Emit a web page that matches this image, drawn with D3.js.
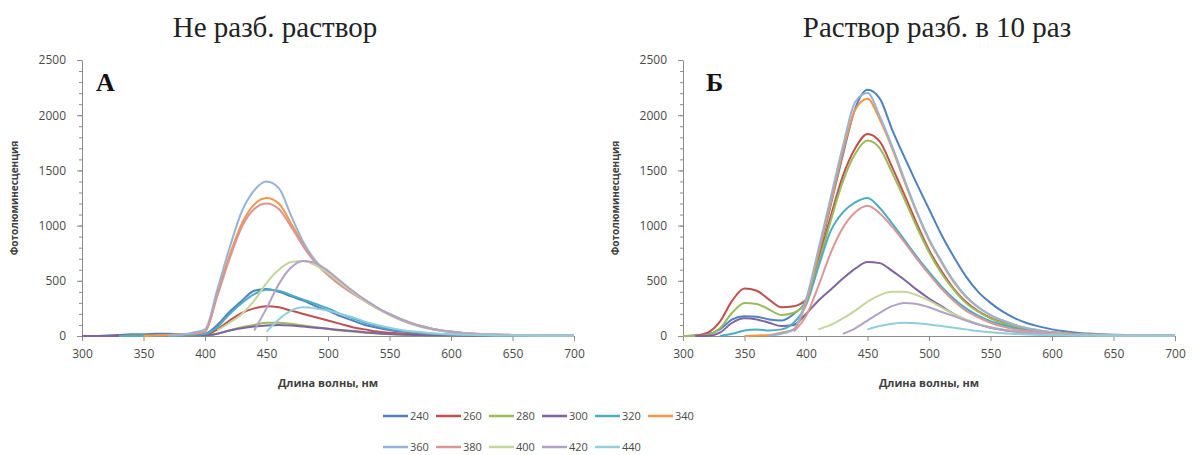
<!DOCTYPE html>
<html>
<head>
<meta charset="utf-8">
<script src="https://cdn.jsdelivr.net/npm/d3@7"></script>
<style>
	body { margin: 0; background: #fff; }
	svg { display: block; }
</style>
</head>
<body>
<div id="chart"></div>
<script>
// emission wavelengths, nm
const wavelengths = [300, 310, 320, 330, 340, 350, 360, 370, 380, 390, 400,
	410, 420, 430, 440, 450, 460, 470, 480, 490, 500,
	510, 520, 530, 540, 550, 560, 570, 580, 590, 600,
	610, 620, 630, 640, 650, 660, 670, 680, 690, 700];

const seriesNames = ["240", "260", "280", "300", "320", "340", "360", "380", "400", "420", "440"];
const colors = ["#4F81BD", "#C0504D", "#9BBB59", "#8064A2", "#4BACC6", "#F79646",
	"#95B3D7", "#D99694", "#C3D69B", "#B3A2C7", "#92CDDC"];

const xTicks = [300, 350, 400, 450, 500, 550, 600, 650, 700];
const yTicks = [0, 500, 1000, 1500, 2000, 2500];

const N = null;

// A: undiluted solution
const a240 = [0,0,5,10,15,15,20,20,15,15,20, 100,220,320,410,425,400,360,320,270,230, 180,140,100,75,55,40,30,20,15,10, 8,6,5,5,5,4,4,3,3,3];
const a260 = [0,0,0,5,5,5,10,10,5,5,10, 60,140,210,250,270,260,230,200,170,140, 110,80,60,40,30,22,16,12,9,7, 5,4,4,3,3,3,2,2,2,2];
const a280 = [0,0,0,0,5,5,5,5,5,5,5, 20,50,80,100,120,120,110,95,80,65, 50,40,30,22,16,12,9,7,5,4, 3,3,2,2,2,2,2,2,2,2];
const a300 = [0,0,0,0,0,0,5,5,5,5,5, 20,50,70,85,95,100,95,85,75,65, 55,45,35,25,18,13,10,7,5,4, 3,3,2,2,2,2,2,2,2,2];
const a320 = [N,N,N,0,0,0,5,5,5,10,20, 80,200,300,380,420,410,370,330,290,250, 200,160,120,90,65,48,35,25,18,13, 10,8,6,5,4,4,3,3,3,3];
const a340 = [N,N,N,N,N,0,5,10,15,20,40, 380,730,1020,1190,1250,1200,1020,830,670,560, 470,390,320,250,200,150,110,80,55,40, 28,20,15,12,10,8,6,5,5,5];
const a360 = [N,N,N,N,N,N,N,5,10,30,60, 420,800,1130,1320,1400,1340,1090,850,680,570, 480,400,325,255,200,150,110,80,55,40, 28,20,15,12,10,8,6,5,5,5];
const a380 = [N,N,N,N,N,N,N,N,N,20,40, 360,700,990,1150,1200,1150,990,810,660,550, 460,385,315,250,195,145,105,75,52,38, 27,19,14,11,9,7,6,5,5,5];
const a400 = [N,N,N,N,N,N,N,N,N,N,N, 50,120,200,320,480,600,670,680,640,570, 480,400,320,250,190,140,100,70,50,35, 25,18,13,10,8,6,5,5,4,4];
const a420 = [N,N,N,N,N,N,N,N,N,N,N, N,N,N,50,250,470,620,680,660,590, 500,410,330,260,195,145,105,75,52,37, 26,19,14,10,8,6,5,5,4,4];
const a440 = [N,N,N,N,N,N,N,N,N,N,N, N,N,N,N,40,150,230,260,250,230, 200,170,130,100,75,55,40,30,20,15, 11,8,6,5,4,4,3,3,3,3];

// Б: solution diluted 10 times
const b240 = [0,5,15,60,150,180,175,150,140,200,320, 720,1180,1640,2060,2230,2150,1870,1620,1380,1150, 920,720,540,400,300,220,160,115,85,60, 42,30,22,16,12,9,7,5,5,5];
const b260 = [0,5,30,130,320,430,410,330,260,270,330, 680,1080,1450,1700,1830,1760,1530,1280,1020,780, 590,430,310,225,165,120,85,60,45,33, 25,18,13,10,8,6,5,5,5,5];
const b280 = [0,0,10,70,210,300,290,240,190,210,310, 650,1040,1400,1650,1770,1700,1480,1240,990,760, 570,420,300,220,160,115,82,58,42,30, 22,16,12,9,7,6,5,5,4,4];
const b300 = [N,0,0,30,120,160,150,120,90,100,200, 320,420,520,610,670,660,590,510,420,340, 270,200,145,105,75,55,40,30,22,16, 12,9,7,6,5,4,4,3,3,3];
const b320 = [N,N,N,0,20,50,60,50,60,120,280, 620,950,1120,1210,1250,1160,1020,870,720,580, 450,340,250,185,135,100,70,50,36,26, 19,14,10,8,6,5,4,4,3,3];
const b340 = [N,N,N,N,N,0,5,10,30,60,300, 740,1200,1670,2050,2150,1960,1700,1400,1120,870, 670,490,355,260,190,140,100,70,50,35, 25,18,14,11,9,7,6,5,5,5];
const b360 = [N,N,N,N,N,N,N,5,20,60,330, 780,1250,1720,2120,2200,1990,1720,1420,1130,880, 680,500,360,260,190,140,100,70,50,35, 25,18,14,11,9,7,6,5,5,5];
const b380 = [N,N,N,N,N,N,N,N,N,40,180, 450,750,980,1120,1180,1110,990,850,700,560, 430,320,230,170,120,85,60,45,32,25, 18,13,10,8,6,5,4,4,3,3];
const b400 = [N,N,N,N,N,N,N,N,N,N,N, 60,100,160,230,310,370,400,400,370,320, 260,200,150,110,80,58,42,30,22,16, 12,9,7,5,4,4,3,3,3,3];
const b420 = [N,N,N,N,N,N,N,N,N,N,N, N,N,20,70,140,210,270,300,290,260, 220,180,140,105,78,56,40,30,22,16, 12,9,7,5,4,4,3,3,3,3];
const b440 = [N,N,N,N,N,N,N,N,N,N,N, N,N,N,N,60,90,110,120,115,105, 90,75,60,45,35,26,19,14,10,8, 6,5,4,4,3,3,3,2,2,2];

const panelA = [a240, a260, a280, a300, a320, a340, a360, a380, a400, a420, a440];
const panelB = [b240, b260, b280, b300, b320, b340, b360, b380, b400, b420, b440];

width = 1194;
height = 455;

const svg = d3.select("div#chart")
	.append("svg")
	.attr("width", width)
	.attr("height", height);

function drawPanel(series, left, title, titleX, letter, letterX, yTitleX) {
	const x = d3.scaleLinear().domain([300, 700]).range([left, left + 492]);
	const y = d3.scaleLinear().domain([0, 2500]).range([336, 60]);

	const g = svg.append("g");

	// minor ticks on y
	g.append("g")
		.attr("transform", `translate(${left}, 0)`)
		.call(d3.axisLeft(y).tickValues(d3.range(0, 2501, 100)).tickSize(3).tickFormat(""))
		.call((g) => g.select(".domain").remove())
		.selectAll("line").attr("stroke", "#b0b0b0");

	g.append("g")
		.attr("class", "yAxis")
		.attr("transform", `translate(${left}, 0)`)
		.call(d3.axisLeft(y).tickValues(yTicks).tickFormat(d3.format("d")).tickSize(5).tickPadding(11).tickSizeOuter(0));

	g.append("g")
		.attr("class", "xAxis")
		.attr("transform", `translate(0, ${y(0)})`)
		.call(d3.axisBottom(x).tickValues(xTicks).tickFormat(d3.format("d")).tickSize(5).tickPadding(8).tickSizeOuter(0));

	g.selectAll(".domain, .tick line").attr("stroke", "#8c8c8c");
	g.selectAll(".tick text")
		.attr("fill", "#4a4a4a")
		.style("font-family", "'Open Sans', sans-serif")
		.style("font-size", "12px");

	const line = d3.line()
		.defined((d) => d != null)
		.x((d, i) => x(wavelengths[i]))
		.y((d) => y(d))
		.curve(d3.curveMonotoneX);

	series.forEach((s, i) => {
		g.append("path")
			.datum(s)
			.attr("fill", "none")
			.attr("stroke", colors[i])
			.attr("stroke-width", 2)
			.attr("stroke-linejoin", "round")
			.attr("d", line);
	});

	svg.append("text")
		.attr("x", titleX)
		.attr("y", 37)
		.attr("text-anchor", "middle")
		.style("font-family", "'Liberation Serif', serif")
		.style("font-size", "29px")
		.attr("fill", "#222")
		.text(title);

	svg.append("text")
		.attr("x", letterX)
		.attr("y", 91)
		.style("font-family", "'Liberation Serif', serif")
		.style("font-size", "26px")
		.style("font-weight", "bold")
		.attr("fill", "#111")
		.text(letter);

	svg.append("text")
		.attr("x", (x.range()[0] + x.range()[1]) / 2)
		.attr("y", 387)
		.attr("text-anchor", "middle")
		.style("font-family", "'Open Sans', sans-serif")
		.style("font-size", "11px")
		.style("font-weight", "bold")
		.attr("fill", "#404040")
		.text("Длина волны, нм");

	svg.append("text")
		.attr("transform", `translate(${yTitleX}, 198) rotate(-90)`)
		.attr("text-anchor", "middle")
		.style("font-family", "'Open Sans', sans-serif")
		.style("font-size", "10px")
		.style("font-weight", "bold")
		.attr("fill", "#404040")
		.text("Фотолюминесценция");
}

drawPanel(panelA, 82, "Не разб. раствор", 275, "A", 96, 18);
drawPanel(panelB, 683, "Раствор разб. в 10 раз", 937, "Б", 706, 619);

// legend, two rows
const legend = svg.append("g").attr("class", "legend");
seriesNames.forEach((name, i) => {
	const row = i < 6 ? 0 : 1;
	const col = i < 6 ? i : i - 6;
	const lx = 383 + col * 53;
	const ly = 416 + row * 31;
	legend.append("line")
		.attr("x1", lx).attr("x2", lx + 25)
		.attr("y1", ly).attr("y2", ly)
		.attr("stroke", colors[i])
		.attr("stroke-width", 2.5);
	legend.append("text")
		.attr("x", lx + 27)
		.attr("y", ly + 4)
		.style("font-family", "'Open Sans', sans-serif")
		.style("font-size", "11px")
		.attr("fill", "#4a4a4a")
		.text(name);
});
</script>
</body>
</html>
